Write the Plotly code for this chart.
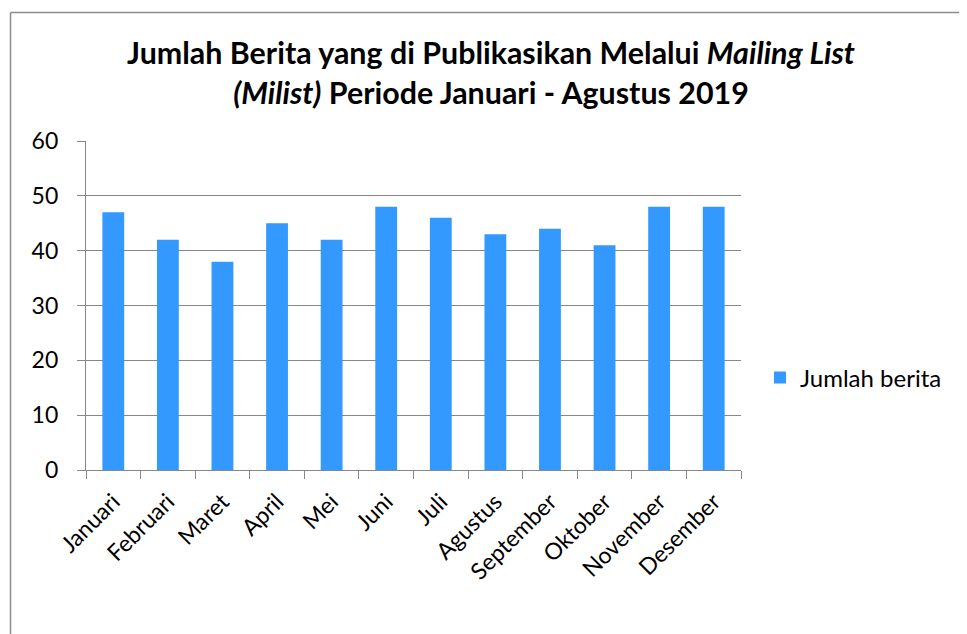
import plotly.graph_objects as go

months = ["Januari", "Februari", "Maret", "April", "Mei", "Juni", "Juli",
          "Agustus", "September", "Oktober", "November", "Desember"]
jumlah_berita = [47, 42, 38, 45, 42, 48, 46, 43, 44, 41, 48, 48]
series_name = "Jumlah berita"
y_ticks = [0, 10, 20, 30, 40, 50, 60]

OFF = 8  # default page body margin
W, H = 967 - OFF, 634 - OFF
L, R, T, B = 86 - OFF, 741 - OFF, 141 - OFF, 470 - OFF

FONT = "Lato, Carlito, Calibri, sans-serif"
GRID = "#878787"
BORDER = "#8c8c8c"

fig = go.Figure()
fig.add_trace(go.Bar(x=months, y=jumlah_berita, name=series_name,
                     marker=dict(color="#3399FF", line=dict(width=0)),
                     showlegend=True))

def px_to_xp(px):
    return (px - OFF - L) / (R - L)

def py_to_yp(py):
    return (B - (py - OFF)) / (B - T)

bx0, by0, bx1, by1 = px_to_xp(10.5), py_to_yp(12.5), px_to_xp(990), py_to_yp(660)
border = [
    dict(type="line", xref="paper", yref="paper", x0=bx0, x1=bx1, y0=by0, y1=by0,
         line=dict(color=BORDER, width=1.5), layer="above"),
    dict(type="line", xref="paper", yref="paper", x0=bx0, x1=bx0, y0=by0, y1=by1,
         line=dict(color=BORDER, width=1.5), layer="above"),
]

fig.update_layout(
    width=W, height=H,
    margin=dict(l=L, r=W - R, t=T, b=H - B, pad=0),
    paper_bgcolor="white", plot_bgcolor="white",
    font=dict(family=FONT, color="black", size=23),
    bargap=0.6,
    title=dict(
        text="<b>Jumlah Berita yang di Publikasikan Melalui <i>Mailing List</i>"
             "<br><i>(Milist)</i> Periode Januari - Agustus 2019</b>",
        x=(491 - OFF) / W, xanchor="center", xref="container",
        y=1 - (64 - OFF) / H, yanchor="top", yref="container",
        font=dict(family=FONT, size=30.4, color="black"),
    ),
    legend=dict(x=px_to_xp(760), xanchor="left", y=py_to_yp(378), yanchor="middle",
                font=dict(family=FONT, size=24, color="black"),
                bgcolor="rgba(0,0,0,0)", borderwidth=0),
    shapes=border,
)

fig.update_yaxes(range=[0, 60], tickvals=y_ticks, showgrid=True, gridcolor=GRID, gridwidth=1.3,
                 showline=True, linecolor=GRID, linewidth=1.3, ticks="outside", ticklen=8,
                 tickcolor=GRID, tickwidth=1.3, ticklabelstandoff=14,
                 tickfont=dict(family=FONT, size=23, color="black"), zeroline=False,
                 fixedrange=True)
fig.update_xaxes(showline=True, linecolor=GRID, linewidth=1.3, ticks="outside", ticklen=8,
                 tickcolor=GRID, tickwidth=1.3, tickson="boundaries", tickangle=-45,
                 ticklabelstandoff=8, showgrid=False, mirror=False,
                 tickfont=dict(family=FONT, size=23, color="black"), fixedrange=True)

fig.write_html("out.html")
